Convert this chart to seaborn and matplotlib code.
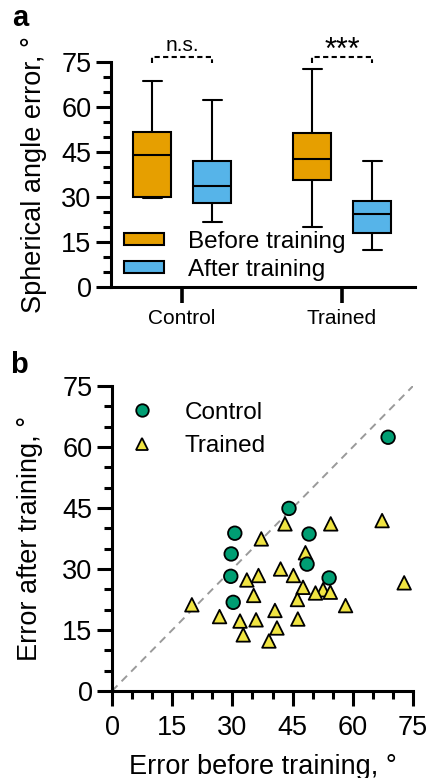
import numpy as np
import pandas as pd
import matplotlib
matplotlib.use("Agg")
import matplotlib.pyplot as plt
from matplotlib.patches import Patch
from matplotlib.ticker import MultipleLocator
import seaborn as sns

# ---- data: per-subject spherical angle errors (degrees) ----
control_before = [68.8, 44.1, 30.6, 49.1, 29.7, 48.6, 29.6, 54.1, 30.2]
control_after = [62.4, 44.9, 38.8, 38.6, 33.7, 31.2, 28.2, 27.8, 21.8]

trained_before = [67.3, 43.1, 54.5, 37.2, 48.2, 42.0, 36.5, 45.2, 33.6, 72.8,
                  47.6, 52.6, 50.7, 54.4, 35.3, 46.2, 19.9, 58.2, 40.6, 26.8,
                  35.9, 31.9, 46.3, 41.1, 32.7, 39.1]
trained_after = [41.9, 41.1, 41.1, 37.4, 34.0, 30.0, 28.4, 28.4, 27.3, 26.6,
                 25.5, 24.9, 24.1, 24.3, 23.5, 22.5, 21.2, 21.0, 19.8, 18.3,
                 17.5, 17.2, 17.7, 15.5, 13.8, 12.3]

groups = ["Control", "Trained"]
phases = ["Before training", "After training"]
significance = ["n.s.", "***"]
y_ticks = [0, 15, 30, 45, 60, 75]

phase_colors = {"Before training": "#E69F00", "After training": "#56B4E9"}
group_colors = {"Control": "#009E73", "Trained": "#F0E442"}
group_markers = {"Control": "o", "Trained": "^"}

sns.set_theme(style="ticks")
plt.rcParams["font.family"] = ["Liberation Sans", "DejaVu Sans"]
plt.rcParams.update({
    "axes.linewidth": 2.2,
    "text.color": "black",
    "axes.labelcolor": "black",
    "axes.edgecolor": "black",
    "xtick.color": "black",
    "ytick.color": "black",
})

W, H = 433, 778
fig = plt.figure(figsize=(W / 100, H / 100), dpi=100)


def frac_axes(left, top, right, bottom):
    return fig.add_axes([left / W, 1 - bottom / H, (right - left) / W, (bottom - top) / H])


def style_axis(ax, fs):
    sns.despine(ax=ax)
    ax.tick_params(axis="both", which="major", length=11, width=2.2, labelsize=fs, pad=3,
                   color="black", labelcolor="black")
    ax.tick_params(axis="both", which="minor", length=5.5, width=2.2, color="black")
    ax.set_facecolor("white")


# ================= panel a: box plots =================
axa = frac_axes(111, 62, 415, 287)
series = {
    ("Control", "Before training"): control_before,
    ("Control", "After training"): control_after,
    ("Trained", "Before training"): trained_before,
    ("Trained", "After training"): trained_after,
}
offset = 0.1875
box_w = 0.2375
stats, positions, colors = [], [], []
for gi, g in enumerate(groups):
    for pi, p in enumerate(phases):
        vals = np.asarray(series[(g, p)])
        q1, med, q3 = np.percentile(vals, [25, 50, 75], method="weibull")
        stats.append(dict(med=med, q1=q1, q3=q3, whislo=vals.min(), whishi=vals.max(), fliers=[]))
        positions.append(gi + (-offset if pi == 0 else offset))
        colors.append(phase_colors[p])

bp = axa.bxp(stats, positions=positions, widths=box_w, patch_artist=True, showfliers=False,
             boxprops=dict(linewidth=1.5, edgecolor="black"),
             medianprops=dict(linewidth=1.5, color="black"),
             whiskerprops=dict(linewidth=1.5, color="black"),
             capprops=dict(linewidth=1.5, color="black"))
for patch, c in zip(bp["boxes"], colors):
    patch.set_facecolor(c)

axa.set_xlim(-0.44375, 1.45625)
axa.set_ylim(0, 75)
axa.set_xticks(range(len(groups)))
axa.set_xticklabels(groups)
axa.set_yticks(y_ticks)
axa.yaxis.set_minor_locator(MultipleLocator(5))
style_axis(axa, 19.5)
axa.tick_params(axis="x", which="major", length=11.5, width=2.6, labelsize=15, pad=4)
axa.set_ylabel("Spherical angle error, °", fontsize=19.5)
axa.yaxis.set_label_coords(-0.21, 0.5)

# significance brackets
for gi, lab in enumerate(significance):
    x0, x1 = gi - offset, gi + offset
    axa.plot([x0, x0, x1, x1], [74.8, 76.8, 76.8, 74.8], color="black", lw=1.5,
             ls=(0, (2.5, 1.6)), clip_on=False)
    if lab == "***":
        axa.text(gi, 76.0, lab, ha="center", va="baseline", fontsize=22, clip_on=False)
    else:
        axa.text(gi, 78.5, lab, ha="center", va="baseline", fontsize=15, clip_on=False)

handles = [Patch(facecolor=phase_colors[p], edgecolor="black", linewidth=1.5, label=p) for p in phases]
axa.legend(handles=handles, loc="upper left", bbox_to_anchor=(0.043, 0.25), frameon=False,
           fontsize=17.5, handlelength=1.65, handleheight=0.34, handletextpad=1.0,
           labelspacing=0.25, borderpad=0, borderaxespad=0)

fig.text(12 / W, 1 - 18 / H, "a", fontsize=21, fontweight="bold", ha="left", va="center")

# ================= panel b: scatter =================
axb = frac_axes(112, 386, 413, 691)
df = pd.DataFrame({
    "before": trained_before + control_before,
    "after": trained_after + control_after,
    "group": ["Trained"] * len(trained_before) + ["Control"] * len(control_before),
})
axb.plot([0, 75], [0, 75], color="#9a9a9a", lw=1.4, ls=(0, (4, 3)), zorder=1)
sns.scatterplot(data=df, x="before", y="after", hue="group", style="group",
                hue_order=groups, style_order=groups,
                palette=group_colors, markers=group_markers, s=95,
                edgecolor="black", linewidth=1.3, ax=axb, zorder=3, legend=True)
axb.set_xlim(0, 75)
axb.set_ylim(0, 75)
axb.set_xticks(y_ticks)
axb.set_yticks(y_ticks)
axb.xaxis.set_minor_locator(MultipleLocator(5))
axb.yaxis.set_minor_locator(MultipleLocator(5))
style_axis(axb, 19.5)
axb.tick_params(axis="x", which="major", pad=6.5)
axb.set_xlabel("Error before training, °", fontsize=19.5)
axb.set_ylabel("Error after training, °", fontsize=19.5)
axb.yaxis.set_label_coords(-0.229, 0.5)
axb.xaxis.set_label_coords(0.5, -0.205)

h, l = axb.get_legend_handles_labels()
for hh in h:
    hh.set_markeredgecolor("black")
    hh.set_markeredgewidth(1.3)
    hh.set_markersize(9)
axb.legend(h, l, loc="upper left", bbox_to_anchor=(0.05, 0.948), frameon=False,
           fontsize=17.5, handletextpad=1.18, labelspacing=0.47, borderpad=0, borderaxespad=0,
           handlelength=1.2)

fig.text(10 / W, 1 - 365 / H, "b", fontsize=21, fontweight="bold", ha="left", va="center")

fig.savefig("out.png", dpi=100, facecolor="white")
